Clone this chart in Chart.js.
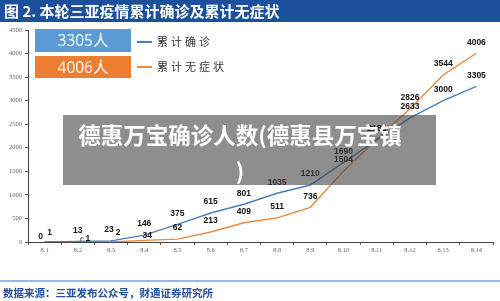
<!DOCTYPE html>
<html>
<head>
<meta charset="utf-8">
<script src="https://cdn.jsdelivr.net/npm/chart.js@4/dist/chart.umd.min.js"></script>
<style>
  html, body { margin:0; padding:0; background:#fff; }
  #wrap { position:relative; width:500px; height:301px; overflow:hidden; font-family:"Noto Sans CJK SC","Noto Sans",sans-serif; }
  #titlebar { position:absolute; left:0; top:0; width:500px; height:22px; background:#1c4f9c; }
  #title { position:absolute; left:4px; top:0; height:22px; line-height:22px; color:#fff; font-weight:700; font-size:15px; white-space:nowrap; }
  #cv { position:absolute; left:0; top:0; }
  .box { position:absolute; left:35px; width:96px; color:#fff; font-size:15.5px; text-align:center; font-family:"Open Sans","Noto Sans CJK SC",sans-serif; }
  .leg { position:absolute; left:137px; font-size:11px; color:#333; letter-spacing:3px; white-space:nowrap; }
  .leg i { display:inline-block; width:15px; height:1.5px; vertical-align:middle; margin-right:5px; position:relative; top:-1px; }
  #overlay { position:absolute; left:63px; top:115px; width:373px; height:70px; background:rgba(67,67,67,0.6); }
  #otext { position:absolute; left:0; top:116px; width:480px; text-align:center; color:#fff; font-weight:700; font-size:22.5px; line-height:36px; }
  #rule { position:absolute; left:0; top:280px; width:500px; height:1.5px; background:#9db6da; }
  #source { position:absolute; left:3px; top:285px; font-size:10.5px; font-weight:700; color:#1f4e9a; white-space:nowrap; line-height:16px; }
</style>
</head>
<body>
<div id="wrap">
  <canvas id="cv" width="500" height="301"></canvas>
  <div id="titlebar"></div>
  <div id="title">图 2. 本轮三亚疫情累计确诊及累计无症状</div>
  <div class="box" style="top:29px;height:23px;line-height:23px;background:#5b9bd5;">3305人</div>
  <div class="box" style="top:56px;height:22px;line-height:22px;background:#ed7d31;">4006人</div>
  <div class="leg" style="top:33px;"><i style="background:#4a7ebb"></i>累计确诊</div>
  <div class="leg" style="top:58px;"><i style="background:#e8893f"></i>累计无症状</div>
  <div id="overlay"></div>
  <div id="otext">德惠万宝确诊人数(德惠县万宝镇<br>)</div>
  <div id="rule"></div>
  <div id="source">数据来源：三亚发布公众号，财通证券研究所</div>
</div>
<script>
const categories = ["8.1","8.2","8.3","8.4","8.5","8.6","8.7","8.8","8.9","8.10","8.11","8.12","8.13","8.14"];
const confirmed = [0, 13, 23, 146, 375, 615, 801, 1035, 1210, 1690, 2165, 2633, 3000, 3305];
const asymptomatic = [1, 1, 2, 34, 62, 213, 409, 511, 736, 1504, 2182, 2826, 3544, 4006];
const yTicks = [0, 500, 1000, 1500, 2000, 2500, 3000, 3500, 4000, 4500];
const seriesNames = ["累计确诊", "累计无症状"];

// label placement tweaks (style only)
const labelOffsets = [
  {0:[-4,-5], 2:[-2,-11]},
  {0:[5,-9], 1:[10,-3], 2:[7,-9], 3:[3,-5]}
];

const labelPlugin = {
  id: 'valueLabels',
  afterDatasetsDraw(chart) {
    const ctx = chart.ctx;
    ctx.save();
    ctx.font = 'bold 8.5px "Liberation Sans", Arial, sans-serif';
    ctx.fillStyle = '#111';
    ctx.textAlign = 'center';
    ctx.textBaseline = 'middle';
    chart.data.datasets.forEach((ds, di) => {
      const meta = chart.getDatasetMeta(di);
      meta.data.forEach((pt, i) => {
        const off = labelOffsets[di][i] || [0, -11];
        ctx.fillText(String(ds.data[i]), pt.x + off[0], pt.y + off[1]);
        if (di === 1 && i === 1) {
          ctx.strokeStyle = '#333';
          ctx.lineWidth = 0.8;
          ctx.beginPath();
          ctx.moveTo(pt.x + 3, pt.y - 1);
          ctx.lineTo(pt.x + 3, pt.y - 4);
          ctx.lineTo(pt.x + 6, pt.y - 4);
          ctx.stroke();
        }
      });
    });
    ctx.restore();
  }
};

new Chart(document.getElementById('cv'), {
  type: 'line',
  data: {
    labels: categories,
    datasets: [
      { label: seriesNames[0], data: confirmed, borderColor: '#4a7ebb', borderWidth: 1.4, pointRadius: 0, tension: 0, fill: false },
      { label: seriesNames[1], data: asymptomatic, borderColor: '#e8893f', borderWidth: 1.4, pointRadius: 0, tension: 0, fill: false }
    ]
  },
  options: {
    responsive: false,
    animation: false,
    layout: { padding: { top: 30, right: 7, bottom: 0, left: 0 } },
    plugins: { legend: { display: false }, tooltip: { enabled: false } },
    scales: {
      x: {
        offset: true,
        grid: { offset: true, drawOnChartArea: false, tickLength: 3, color: '#555' },
        border: { color: '#444', width: 1 },
        ticks: { color: '#666', padding: 1, font: { family: '"Liberation Serif", serif', size: 6.5 }, maxRotation: 0, autoSkip: false },
        afterFit(s) { s.height = 59; }
      },
      y: {
        min: 0, max: 4500,
        afterBuildTicks(s) { s.ticks = yTicks.map(v => ({ value: v })); },
        grid: { drawOnChartArea: false, tickLength: 3, color: '#555' },
        border: { color: '#444', width: 1 },
        ticks: { color: '#666', padding: 3, font: { family: '"Liberation Serif", serif', size: 6.5 }, callback: (v) => String(v) },
        afterFit(s) { s.width = 28; }
      }
    }
  },
  plugins: [labelPlugin]
});
</script>
</body>
</html>
